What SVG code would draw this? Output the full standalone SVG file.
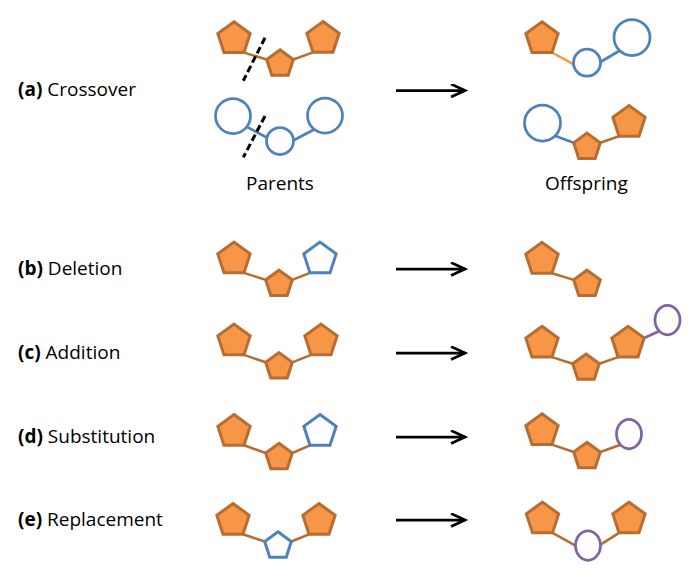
<svg xmlns="http://www.w3.org/2000/svg" width="696" height="578" viewBox="0 0 696 578">
<style>
.po{fill:#F79646;stroke:#B66D31;stroke-width:3}
.pw{fill:#fff;stroke:#4F81BD;stroke-width:3}
.cb{fill:#fff;stroke:#4F81BD;stroke-width:2.75}
.ep{fill:#fff;stroke:#8064A2;stroke-width:2.75}
.lo{stroke:#B66D31;stroke-width:2.5;fill:none}
.ll{stroke:#F79646;stroke-width:2.5;fill:none}
.lb{stroke:#4F81BD;stroke-width:2.75;fill:none}
.lp{stroke:#8064A2;stroke-width:2.75;fill:none}
.cut{stroke:#000;stroke-width:3;stroke-dasharray:7 3.5;fill:none}
.arr{stroke:#000;stroke-width:2.75;fill:none;marker-end:url(#ah)}
.t{font-family:"Open Sans","Liberation Sans",sans-serif;font-size:19px;fill:#000}
.b{font-weight:bold}
</style>
<defs>
<polygon id="PB" points="0,-17 16.17,-5.25 9.99,13.75 -9.99,13.75 -16.17,-5.25"/>
<polygon id="PS" points="0,-14 13.31,-4.33 8.23,11.33 -8.23,11.33 -13.31,-4.33"/>
<marker id="ah" markerUnits="userSpaceOnUse" markerWidth="20" markerHeight="20" refX="15" refY="7" orient="auto">
<path d="M1,0.6 L15,7 L1,13.4" fill="none" stroke="#000" stroke-width="2.75"/>
</marker>
</defs>
<rect width="696" height="578" fill="#fff"/>

<g id="connectors">
<line class="lo" x1="244" y1="52.6" x2="266.7" y2="59.5"/>
<line class="lo" x1="293.3" y1="59.5" x2="313" y2="52.3"/>
<line class="lb" x1="244" y1="125.4" x2="272" y2="140.2"/>
<line class="lb" x1="288" y1="143.3" x2="316" y2="128.5"/>
<line class="ll" x1="552" y1="52.5" x2="576" y2="65.7"/>
<line class="lb" x1="595" y1="65.2" x2="622" y2="49.3"/>
<line class="lb" x1="550" y1="134" x2="573.7" y2="142.8"/>
<line class="lo" x1="600.3" y1="142.8" x2="619" y2="136.3"/>
<line class="lo" x1="244" y1="272.9" x2="265.7" y2="279.9"/>
<line class="lo" x1="292.3" y1="279.9" x2="310" y2="272.9"/>
<line class="lo" x1="552" y1="273.2" x2="573.7" y2="279.9"/>
<line class="lo" x1="244" y1="354.9" x2="265.7" y2="362.3"/>
<line class="lo" x1="292.3" y1="362.3" x2="311" y2="354.9"/>
<line class="lo" x1="552" y1="357.1" x2="572.7" y2="363.7"/>
<line class="lo" x1="599.3" y1="363.7" x2="618" y2="357.1"/>
<line class="lp" x1="644.2" y1="338" x2="660" y2="330.7"/>
<line class="lo" x1="244" y1="445.3" x2="265.7" y2="453"/>
<line class="lo" x1="292.3" y1="453" x2="310" y2="445.3"/>
<line class="lo" x1="552" y1="444.6" x2="573.7" y2="452"/>
<line class="lo" x1="600.3" y1="452" x2="622" y2="444.2"/>
<line class="lo" x1="243" y1="534.3" x2="264.7" y2="541.5"/>
<line class="lo" x1="291.3" y1="541.5" x2="309" y2="534.3"/>
<line class="lo" x1="552.5" y1="532.9" x2="580" y2="548.2"/>
<line class="lo" x1="619" y1="532.9" x2="596" y2="547.6"/>
<line class="arr" x1="396" y1="90.5" x2="465" y2="90.5"/>
<line class="arr" x1="396" y1="269" x2="465" y2="269"/>
<line class="arr" x1="396" y1="353" x2="465" y2="353"/>
<line class="arr" x1="396" y1="437" x2="465" y2="437"/>
<line class="arr" x1="396" y1="520" x2="465" y2="520"/>
</g>

<g id="a-parent-1">
<use href="#PB" class="po" x="234" y="38.8"/>
<use href="#PS" class="po" x="280" y="63.8"/>
<use href="#PB" class="po" x="323" y="38.5"/>
</g>
<g id="a-parent-2">
<circle class="cb" cx="233" cy="116" r="17.5"/>
<circle class="cb" cx="280" cy="141" r="13.5"/>
<circle class="cb" cx="325" cy="115.5" r="17.5"/>
</g>
<g id="cut-marks">
<line class="cut" x1="265" y1="37.7" x2="243.3" y2="80.7"/>
<line class="cut" x1="265" y1="116" x2="243.3" y2="157.3"/>
</g>
<g id="a-offspring-1">
<use href="#PB" class="po" x="542" y="38.8"/>
<circle class="cb" cx="587" cy="62.7" r="13.5"/>
<circle class="cb" cx="632" cy="37.5" r="18"/>
</g>
<g id="a-offspring-2">
<circle class="cb" cx="542.5" cy="123" r="18"/>
<use href="#PS" class="po" x="587" y="147.1"/>
<use href="#PB" class="po" x="629" y="122.5"/>
</g>

<g id="b-parent">
<use href="#PB" class="po" x="234" y="259.1"/>
<use href="#PS" class="po" x="279" y="284.2"/>
<use href="#PB" class="pw" x="320" y="259.1"/>
</g>
<g id="b-offspring">
<use href="#PB" class="po" x="542" y="259.4"/>
<use href="#PS" class="po" x="587" y="284.2"/>
</g>

<g id="c-parent">
<use href="#PB" class="po" x="234" y="341.1"/>
<use href="#PS" class="po" x="279" y="366.6"/>
<use href="#PB" class="po" x="321" y="341.1"/>
</g>
<g id="c-offspring">
<use href="#PB" class="po" x="542" y="343.3"/>
<use href="#PS" class="po" x="586" y="368"/>
<use href="#PB" class="po" x="628" y="343.3"/>
<ellipse class="ep" cx="667.5" cy="320" rx="12.5" ry="14.75"/>
</g>

<g id="d-parent">
<use href="#PB" class="po" x="234" y="431.5"/>
<use href="#PS" class="po" x="279" y="457.3"/>
<use href="#PB" class="pw" x="320" y="431.5"/>
</g>
<g id="d-offspring">
<use href="#PB" class="po" x="542" y="430.8"/>
<use href="#PS" class="po" x="587" y="456.3"/>
<ellipse class="ep" cx="629" cy="434" rx="12.5" ry="14.75"/>
</g>

<g id="e-parent">
<use href="#PB" class="po" x="233" y="520.5"/>
<use href="#PS" class="pw" x="278" y="545.8"/>
<use href="#PB" class="po" x="319" y="520.5"/>
</g>
<g id="e-offspring">
<use href="#PB" class="po" x="542.5" y="519.1"/>
<ellipse class="ep" cx="588" cy="545.5" rx="12.5" ry="14.75"/>
<use href="#PB" class="po" x="629" y="519.1"/>
</g>

<g id="labels">
<text class="t" x="18" y="96"><tspan class="b">(a)</tspan> Crossover</text>
<text class="t" x="18" y="275"><tspan class="b">(b)</tspan> Deletion</text>
<text class="t" x="18" y="359"><tspan class="b">(c)</tspan> Addition</text>
<text class="t" x="18" y="443"><tspan class="b">(d)</tspan> Substitution</text>
<text class="t" x="18" y="526"><tspan class="b">(e)</tspan> Replacement</text>
<text class="t" x="246" y="190">Parents</text>
<text class="t" x="545" y="190">Offspring</text>
</g>
</svg>
